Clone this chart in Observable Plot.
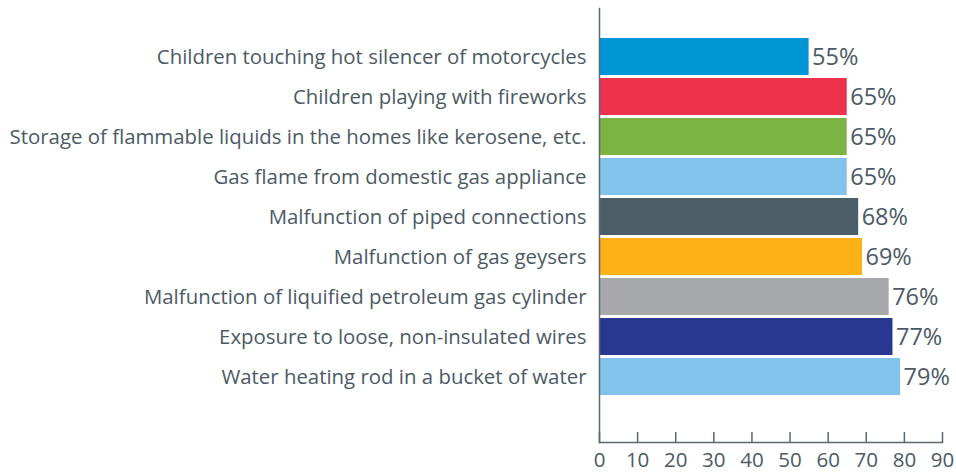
<!DOCTYPE html>
<html>
<head>
<meta charset="utf-8">
<script src="https://cdn.jsdelivr.net/npm/d3@7"></script>
<script src="https://cdn.jsdelivr.net/npm/@observablehq/plot@0.6"></script>
<style>
  html, body { margin: 0; padding: 0; background: #fff; }
</style>
</head>
<body>
<div id="chart"></div>
<script>
const categories = [
  "Children touching hot silencer of motorcycles",
  "Children playing with fireworks",
  "Storage of flammable liquids in the homes like kerosene, etc.",
  "Gas flame from domestic gas appliance",
  "Malfunction of piped connections",
  "Malfunction of gas geysers",
  "Malfunction of liquified petroleum gas cylinder",
  "Exposure to loose, non-insulated wires",
  "Water heating rod in a bucket of water"
];
const values = [55, 65, 65, 65, 68, 69, 76, 77, 79];
const colors = ["#0096d6", "#ee314c", "#7db343", "#82c3ec", "#4b5e68", "#fcb216", "#a7a8ac", "#283891", "#82c3ec"];
const xTicks = [0, 10, 20, 30, 40, 50, 60, 70, 80, 90];

const data = categories.map((c, i) => ({category: c, value: values[i], color: colors[i]}));
const textColor = "#4b5a65";
const axisColor = "#5a6872";

const chart = Plot.plot({
  width: 956,
  height: 472,
  marginLeft: 599,
  marginRight: 14,
  marginTop: 8,
  marginBottom: 30,
  style: {fontFamily: "'Open Sans', sans-serif", color: textColor, background: "#fff"},
  x: {domain: [0, 90], ticks: xTicks},
  y: {domain: categories, range: [35.4, 397.6], paddingInner: 0.08, paddingOuter: 0.04},
  marks: [
    Plot.barX(data, {x: "value", y: "category", fill: "color"}),
    Plot.text(data, {x: "value", y: "category", text: d => d.value + "%", textAnchor: "start", dx: 3, fontSize: 23.5, fill: textColor}),
    Plot.tickX(xTicks, {x: d => d, stroke: axisColor, strokeWidth: 1.5, insetTop: 424}),
    Plot.frame({anchor: "left", stroke: axisColor, strokeWidth: 1.5}),
    Plot.frame({anchor: "bottom", stroke: axisColor, strokeWidth: 1.5}),
    Plot.axisX(xTicks, {tickSize: 0, tickPadding: 10, fontSize: 20.5, label: null}),
    Plot.axisY({tickSize: 0, tickPadding: 13, fontSize: 20.4, label: null})
  ]
});
document.getElementById("chart").appendChild(chart);
</script>
</body>
</html>
